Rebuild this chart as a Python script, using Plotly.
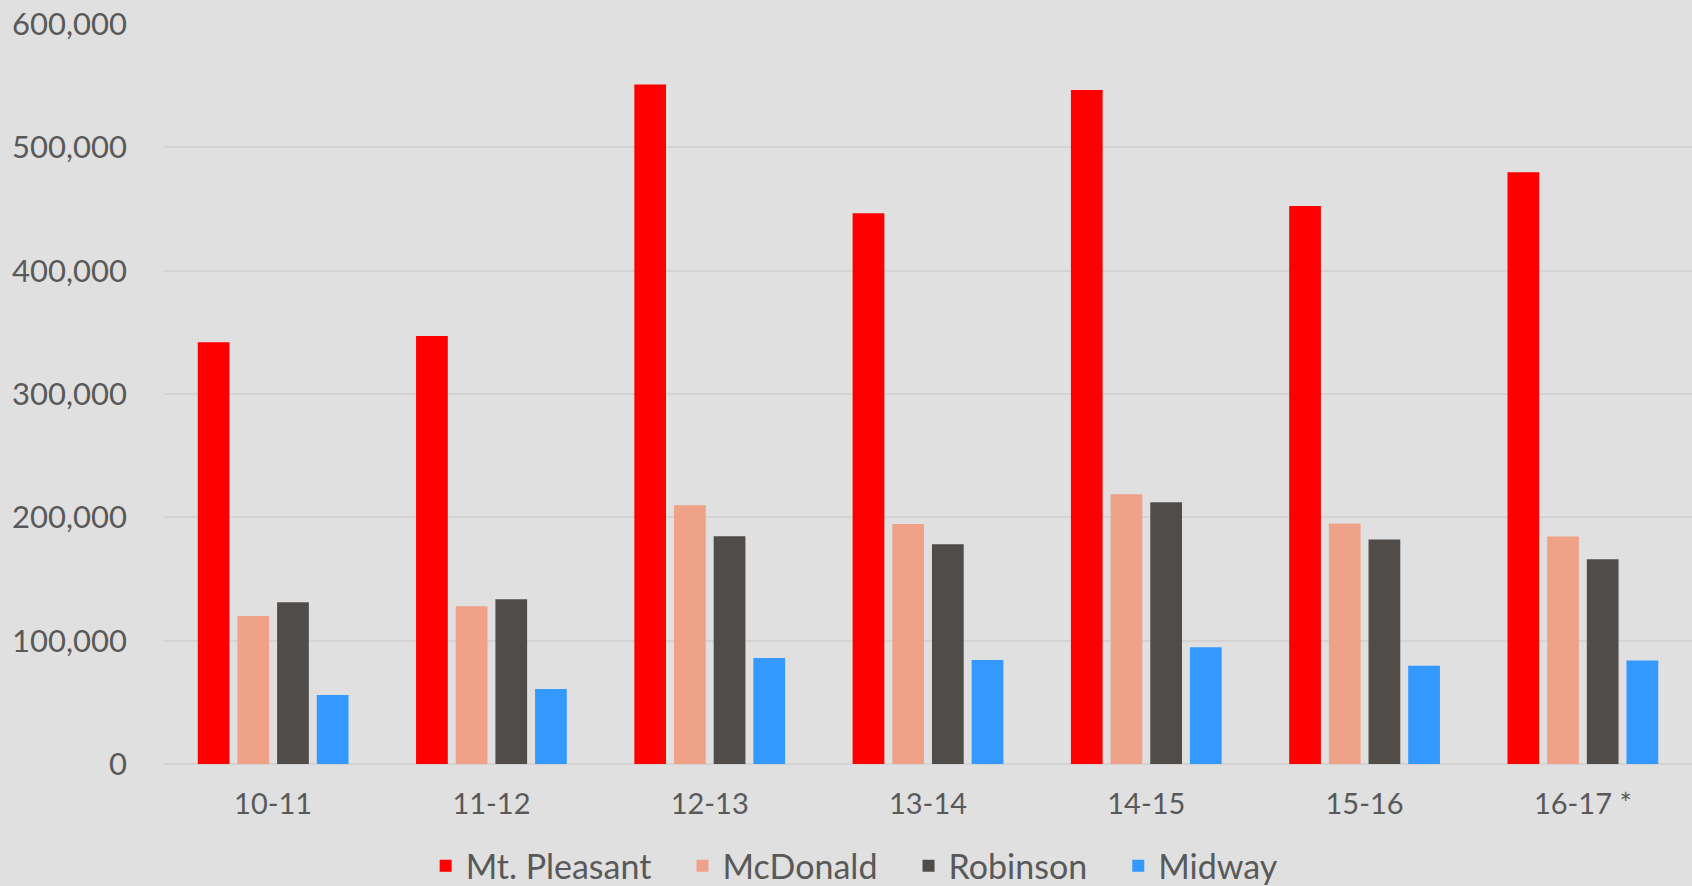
import plotly.graph_objects as go

years = ["10-11", "11-12", "12-13", "13-14", "14-15", "15-16", "16-17 *"]
mt_pleasant = [342000, 347000, 551000, 446500, 546500, 452500, 479700]
mcdonald = [120000, 128000, 209700, 194600, 218700, 195000, 184500]
robinson = [131100, 133500, 184600, 178100, 212200, 182000, 166000]
midway = [56000, 60800, 85900, 84300, 94600, 79600, 84000]
y_ticks = [0, 100000, 200000, 300000, 400000, 500000, 600000]
y_tick_labels = ["0", "100,000", "200,000", "300,000", "400,000", "500,000", "600,000"]

series = [
    ("Mt. Pleasant", mt_pleasant, "#ff0000"),
    ("McDonald", mcdonald, "#f0a288"),
    ("Robinson", robinson, "#504c4a"),
    ("Midway", midway, "#3399ff"),
]

pad = "\u00a0\u00a0\u00a0"

fig = go.Figure()
for i, (name, vals, color) in enumerate(series):
    label = name + (pad if i < len(series) - 1 else "")
    fig.add_trace(go.Bar(x=years, y=vals, name=label,
                         hovertemplate=name + ": %{y:,}<extra></extra>",
                         marker=dict(color=color, line=dict(width=0))))

font_family = "Lato"
grey = "#595959"

fig.update_layout(
    width=1692, height=886,
    margin=dict(l=164, r=0, t=24, b=122, autoexpand=False),
    paper_bgcolor="#e0e0e0",
    plot_bgcolor="#e0e0e0",
    barmode="group",
    bargap=0.273,
    bargroupgap=0.2,
    font=dict(family=font_family, color=grey, size=29),
    showlegend=True,
    legend=dict(orientation="h", x=0.452, xanchor="center", y=-0.138, yanchor="middle",
                font=dict(size=34, color=grey), bgcolor="rgba(0,0,0,0)",
                traceorder="normal"),
    xaxis=dict(type="category", showgrid=False, showline=False, ticks="",
               ticklabelstandoff=20, tickfont=dict(size=29, color=grey)),
    yaxis=dict(range=[0, 600000], tickvals=y_ticks, ticktext=y_tick_labels,
               showgrid=True, gridcolor="#d3d3d3", gridwidth=1.5,
               zeroline=True, zerolinecolor="#d3d3d3", zerolinewidth=1.5,
               showline=False, ticks="", ticklabelstandoff=36,
               tickfont=dict(size=31, color=grey)),
)

fig.write_html("out.html", config={"displayModeBar": False},
               post_script="document.body.style.margin='0';document.body.style.background='#e0e0e0';")
